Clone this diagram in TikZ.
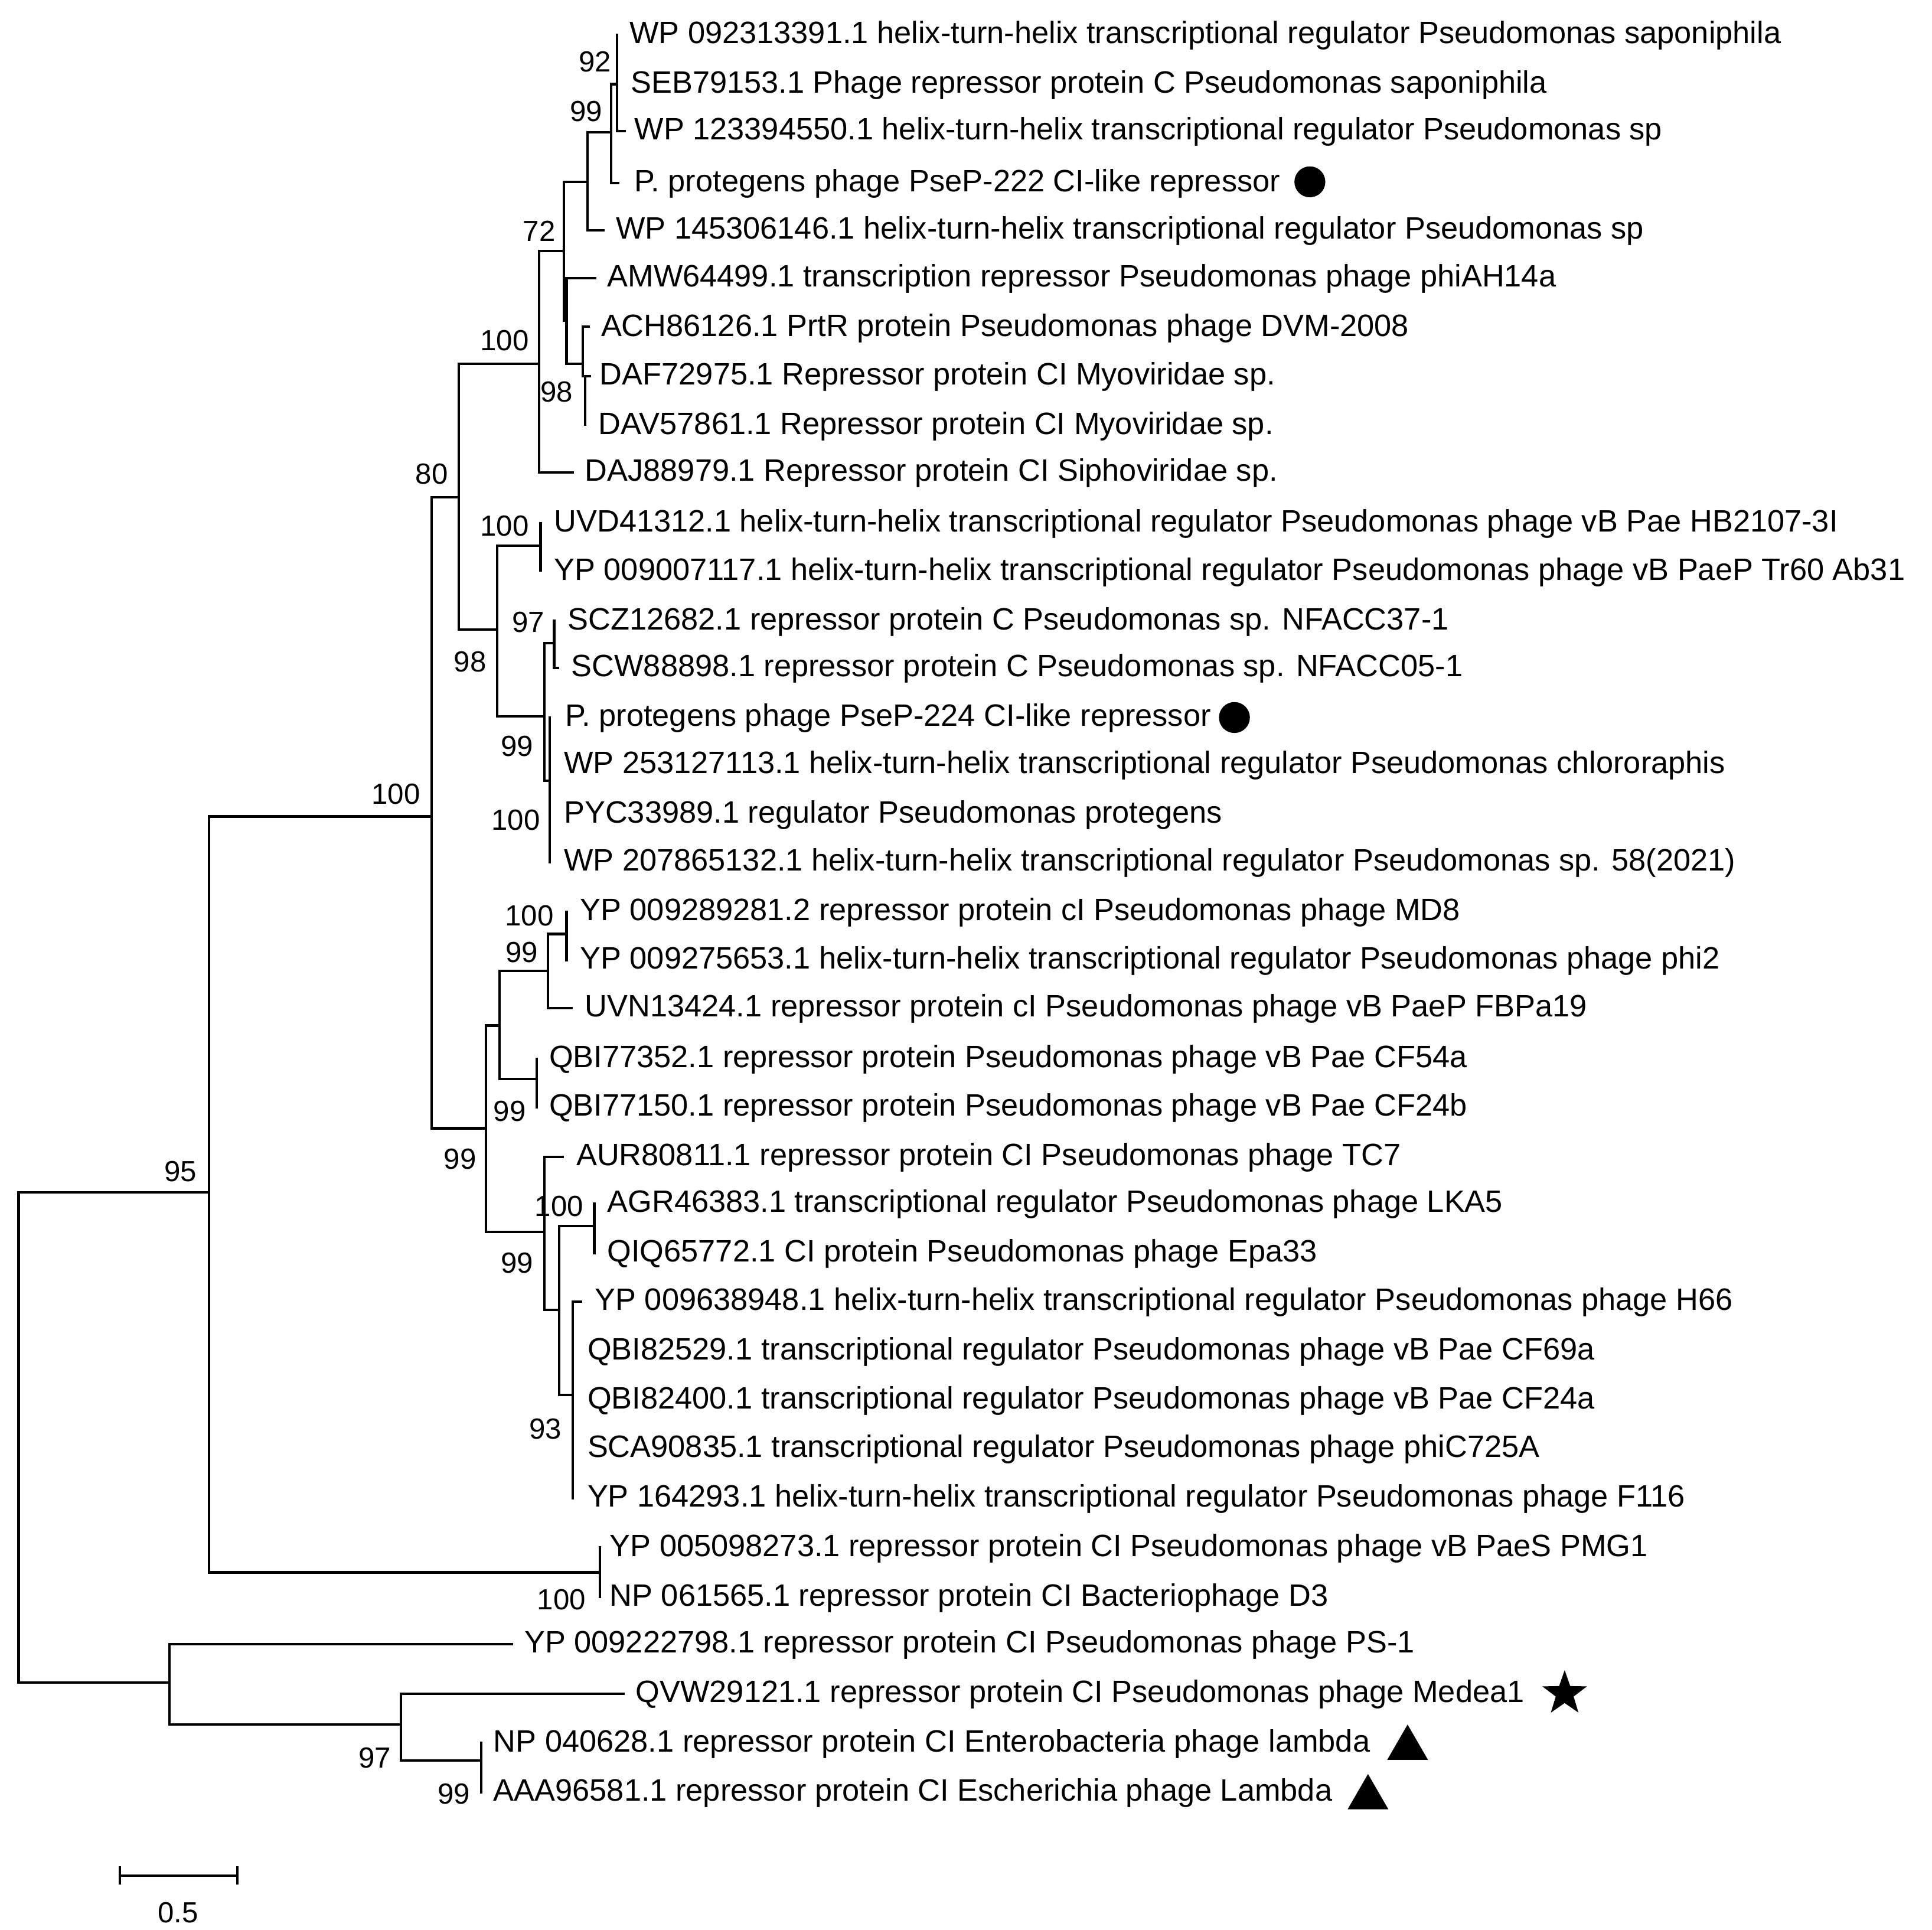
\documentclass[tikz,border=0pt]{standalone}
\usepackage{fontspec}
\setmainfont{Liberation Sans}
\usetikzlibrary{shapes.geometric}
\begin{document}
\begin{tikzpicture}[x=1pt,y=-1pt,line width=2pt,
  leaf/.style={anchor=base west,inner sep=0pt,font=\fontsize{25}{29}\selectfont},
  boot/.style={inner sep=0pt,font=\fontsize{23.5}{27}\selectfont},
  br/.style={line cap=rect}]
\useasboundingbox (0,0) rectangle (1562,1560);
% internal nodes
\coordinate (r0) at (15,964);
\coordinate (A) at (169,964);
\coordinate (D) at (485,1271);
\coordinate (C) at (349,660);
\coordinate (E) at (371,402);
\coordinate (G) at (436,294);
\coordinate (I) at (456,203);
\coordinate (J) at (475,147);
\coordinate (L) at (494,107);
\coordinate (M) at (499,68);
\coordinate (K) at (458,259);
\coordinate (N) at (471,294);
\coordinate (O) at (473,304);
\coordinate (H) at (402,509);
\coordinate (P) at (437,441);
\coordinate (Q) at (440,579);
\coordinate (R) at (448,520);
\coordinate (S) at (444.5,631);
\coordinate (F) at (393,912);
\coordinate (T) at (404,829);
\coordinate (V) at (443,785);
\coordinate (X) at (458,755);
\coordinate (W) at (434,872);
\coordinate (U) at (440,996);
\coordinate (Y) at (452,1059);
\coordinate (Z) at (480.5,991);
\coordinate (AA) at (463,1127.5);
\coordinate (B) at (137,1360);
\coordinate (BB) at (324,1394);
\coordinate (CC) at (389,1423);
% leaf ends
\coordinate (e1) at (499,28);
\coordinate (e2) at (499,68);
\coordinate (e3) at (505,106);
\coordinate (e4) at (500,148);
\coordinate (e5) at (488,186);
\coordinate (e6) at (481,225);
\coordinate (e7) at (476,264);
\coordinate (e8) at (477,304);
\coordinate (e9) at (473,343);
\coordinate (e10) at (463,382);
\coordinate (e11) at (437,423);
\coordinate (e12) at (437,461);
\coordinate (e13) at (448,502);
\coordinate (e14) at (451,540);
\coordinate (e15) at (444.5,580);
\coordinate (e16) at (444.5,618);
\coordinate (e17) at (444.5,658);
\coordinate (e18) at (444.5,697);
\coordinate (e19) at (458,737);
\coordinate (e20) at (458,776);
\coordinate (e21) at (462,815);
\coordinate (e22) at (434,856);
\coordinate (e23) at (434,895);
\coordinate (e24) at (455,935);
\coordinate (e25) at (480.5,973);
\coordinate (e26) at (480.5,1013);
\coordinate (e27) at (469.5,1052);
\coordinate (e28) at (463,1092);
\coordinate (e29) at (463,1132);
\coordinate (e30) at (463,1171);
\coordinate (e31) at (463,1211);
\coordinate (e32) at (485,1251);
\coordinate (e33) at (485,1291);
\coordinate (e34) at (414,1329);
\coordinate (e35) at (504,1369);
\coordinate (e36) at (389,1409);
\coordinate (e37) at (389,1449);
% branches
\draw[br] (r0) |- (A); \draw[br] (r0) |- (B);
\draw[br] (A) |- (C); \draw[br] (A) |- (D);
\draw[br] (D) |- (e32); \draw[br] (D) |- (e33);
\draw[br] (C) |- (E); \draw[br] (C) |- (F);
\draw[br] (E) |- (G); \draw[br] (E) |- (H);
\draw[br] (G) |- (I); \draw[br] (G) |- (e10);
\draw[br] (I) |- (J); \draw[br] (I) |- (K);
\draw[br] (J) |- (L); \draw[br] (J) |- (e5);
\draw[br] (L) |- (M); \draw[br] (L) |- (e4);
\draw[br] (M) |- (e1); \draw[br] (M) |- (e2); \draw[br] (M) |- (e3);
\draw[br] (K) |- (e6); \draw[br] (K) |- (N);
\draw[br] (N) |- (e7); \draw[br] (N) |- (O);
\draw[br] (O) |- (e8); \draw[br] (O) |- (e9);
\draw[br] (H) |- (P); \draw[br] (H) |- (Q);
\draw[br] (P) |- (e11); \draw[br] (P) |- (e12);
\draw[br] (Q) |- (R); \draw[br] (Q) |- (S);
\draw[br] (R) |- (e13); \draw[br] (R) |- (e14);
\draw[br] (S) |- (e15); \draw[br] (S) |- (e16); \draw[br] (S) |- (e17); \draw[br] (S) |- (e18);
\draw[br] (F) |- (T); \draw[br] (F) |- (U);
\draw[br] (T) |- (V); \draw[br] (T) |- (W);
\draw[br] (V) |- (X); \draw[br] (V) |- (e21);
\draw[br] (X) |- (e19); \draw[br] (X) |- (e20);
\draw[br] (W) |- (e22); \draw[br] (W) |- (e23);
\draw[br] (U) |- (e24); \draw[br] (U) |- (Y);
\draw[br] (Y) |- (Z); \draw[br] (Y) |- (AA);
\draw[br] (Z) |- (e25); \draw[br] (Z) |- (e26);
\draw[br] (AA) |- (e27); \draw[br] (AA) |- (e28); \draw[br] (AA) |- (e29); \draw[br] (AA) |- (e30); \draw[br] (AA) |- (e31);
\draw[br] (B) |- (e34); \draw[br] (B) |- (BB);
\draw[br] (BB) |- (e35); \draw[br] (BB) |- (CC);
\draw[br] (CC) |- (e36); \draw[br] (CC) |- (e37);
% leaf labels
\node[leaf] (t1) at (508,35) {WP 092313391.1 helix-turn-helix transcriptional regulator Pseudomonas saponiphila};
\node[leaf] (t2) at (509,75) {SEB79153.1 Phage repressor protein C Pseudomonas saponiphila};
\node[leaf] (t3) at (512,113) {WP 123394550.1 helix-turn-helix transcriptional regulator Pseudomonas sp};
\node[leaf] (t4) at (512,155) {P. protegens phage PseP-222 CI-like repressor};
\node[leaf] (t5) at (497,193) {WP 145306146.1 helix-turn-helix transcriptional regulator Pseudomonas sp};
\node[leaf] (t6) at (490,232) {AMW64499.1 transcription repressor Pseudomonas phage phiAH14a};
\node[leaf] (t7) at (485,272) {ACH86126.1 PrtR protein Pseudomonas phage DVM-2008};
\node[leaf] (t8) at (484,311) {DAF72975.1 Repressor protein CI Myoviridae sp.};
\node[leaf] (t9) at (483,351) {DAV57861.1 Repressor protein CI Myoviridae sp.};
\node[leaf] (t10) at (472,389) {DAJ88979.1 Repressor protein CI Siphoviridae sp.};
\node[leaf] (t11) at (447,430) {UVD41312.1 helix-turn-helix transcriptional regulator Pseudomonas phage vB Pae HB2107-3I};
\node[leaf] (t12) at (447,469) {YP 009007117.1 helix-turn-helix transcriptional regulator Pseudomonas phage vB PaeP Tr60 Ab31};
\node[leaf] (t13) at (458,509) {SCZ12682.1 repressor protein C Pseudomonas sp. NFACC37-1};
\node[leaf] (t14) at (461,547) {SCW88898.1 repressor protein C Pseudomonas sp. NFACC05-1};
\node[leaf] (t15) at (456,587) {P. protegens phage PseP-224 CI-like repressor};
\node[leaf] (t16) at (455,625) {WP 253127113.1 helix-turn-helix transcriptional regulator Pseudomonas chlororaphis};
\node[leaf] (t17) at (455,665) {PYC33989.1 regulator Pseudomonas protegens};
\node[leaf] (t18) at (455,704) {WP 207865132.1 helix-turn-helix transcriptional regulator Pseudomonas sp. 58(2021)};
\node[leaf] (t19) at (468,744) {YP 009289281.2 repressor protein cI Pseudomonas phage MD8};
\node[leaf] (t20) at (468,783) {YP 009275653.1 helix-turn-helix transcriptional regulator Pseudomonas phage phi2};
\node[leaf] (t21) at (472,822) {UVN13424.1 repressor protein cI Pseudomonas phage vB PaeP FBPa19};
\node[leaf] (t22) at (443,863) {QBI77352.1 repressor protein Pseudomonas phage vB Pae CF54a};
\node[leaf] (t23) at (443,902) {QBI77150.1 repressor protein Pseudomonas phage vB Pae CF24b};
\node[leaf] (t24) at (465,942) {AUR80811.1 repressor protein CI Pseudomonas phage TC7};
\node[leaf] (t25) at (490,980) {AGR46383.1 transcriptional regulator Pseudomonas phage LKA5};
\node[leaf] (t26) at (490,1020) {QIQ65772.1 CI protein Pseudomonas phage Epa33};
\node[leaf] (t27) at (480,1059) {YP 009638948.1 helix-turn-helix transcriptional regulator Pseudomonas phage H66};
\node[leaf] (t28) at (474,1099) {QBI82529.1 transcriptional regulator Pseudomonas phage vB Pae CF69a};
\node[leaf] (t29) at (474,1139) {QBI82400.1 transcriptional regulator Pseudomonas phage vB Pae CF24a};
\node[leaf] (t30) at (474,1178) {SCA90835.1 transcriptional regulator Pseudomonas phage phiC725A};
\node[leaf] (t31) at (474,1218) {YP 164293.1 helix-turn-helix transcriptional regulator Pseudomonas phage F116};
\node[leaf] (t32) at (492,1258) {YP 005098273.1 repressor protein CI Pseudomonas phage vB PaeS PMG1};
\node[leaf] (t33) at (492,1298) {NP 061565.1 repressor protein CI Bacteriophage D3};
\node[leaf] (t34) at (423,1336) {YP 009222798.1 repressor protein CI Pseudomonas phage PS-1};
\node[leaf] (t35) at (513,1376) {QVW29121.1 repressor protein CI Pseudomonas phage Medea1};
\node[leaf] (t36) at (398,1416) {NP 040628.1 repressor protein CI Enterobacteria phage lambda};
\node[leaf] (t37) at (398,1456) {AAA96581.1 repressor protein CI Escherichia phage Lambda};
% markers
\node[circle,fill,inner sep=0pt,minimum size=25pt] (m1) at (1059,147) {};
\node[circle,fill,inner sep=0pt,minimum size=25pt] (m2) at (998,580) {};
\node[star,star points=5,star point ratio=2.5,fill,inner sep=0pt,minimum size=38pt] (m3) at (1265,1369) {};
\node[regular polygon,regular polygon sides=3,fill,inner sep=0pt,minimum size=38pt] (m4) at (1138,1413) {};
\node[regular polygon,regular polygon sides=3,fill,inner sep=0pt,minimum size=38pt] (m5) at (1106,1453) {};
% bootstrap values
\node[boot] (b1) at (481,50) {92};
\node[boot] (b2) at (474,90) {99};
\node[boot] (b3) at (436,187) {72};
\node[boot] (b4) at (408,275) {100};
\node[boot] (b5) at (450,317) {98};
\node[boot] (b6) at (349,383) {80};
\node[boot] (b7) at (408,425) {100};
\node[boot] (b8) at (427,503) {97};
\node[boot] (b9) at (380,535) {98};
\node[boot] (b10) at (418,603) {99};
\node[boot] (b11) at (417,663) {100};
\node[boot] (b12) at (320,642) {100};
\node[boot] (b13) at (428,740) {100};
\node[boot] (b14) at (422,770) {99};
\node[boot] (b15) at (412,898) {99};
\node[boot] (b16) at (372,937) {99};
\node[boot] (b17) at (452,975) {100};
\node[boot] (b18) at (418,1021) {99};
\node[boot] (b19) at (441,1155) {93};
\node[boot] (b20) at (146,947) {95};
\node[boot] (b21) at (454,1293) {100};
\node[boot] (b22) at (303,1421) {97};
\node[boot] (b23) at (367,1450) {99};
% scale bar
\coordinate (s1) at (97,1516);
\coordinate (s2) at (192,1516);
\draw (s1) -- (s2);
\draw ([yshift=-7.5pt]s1) -- ([yshift=7.5pt]s1);
\draw ([yshift=-7.5pt]s2) -- ([yshift=7.5pt]s2);
\node[boot] (sc) at (144,1546) {0.5};
\end{tikzpicture}
\end{document}
